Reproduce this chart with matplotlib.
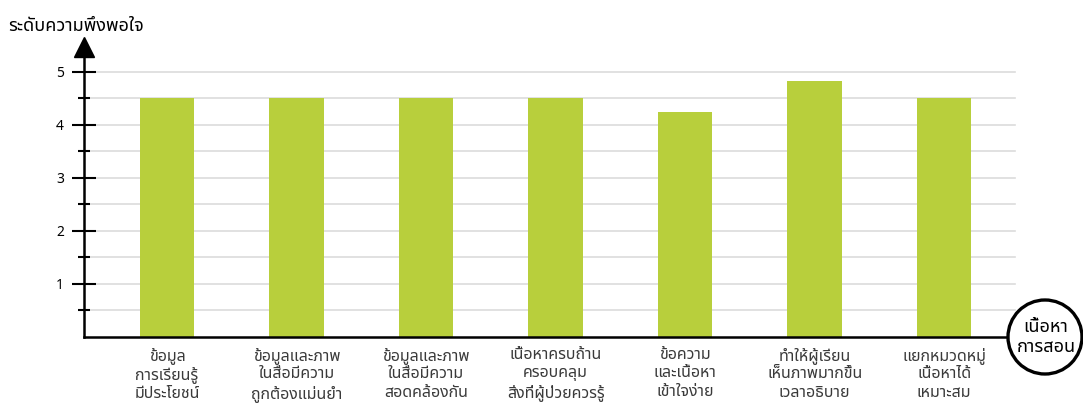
import matplotlib
matplotlib.use('Agg')
import matplotlib.pyplot as plt
import matplotlib.font_manager as fm
from matplotlib.ft2font import FT2Font
from matplotlib.patches import Ellipse
import numpy as np

# Thai glyphs: pick an installed family that actually covers the Thai block
PREFERRED = ['Noto Sans Thai', 'Noto Sans Thai UI', 'Sarabun', 'Loma', 'Garuda',
             'Kinnari', 'Norasi', 'Tlwg Typo', 'Waree', 'Umpush', 'Laksaman']
thai_font = None
names = {f.name: f.fname for f in fm.fontManager.ttflist}
for fn in PREFERRED:
    if fn in names:
        thai_font = fn
        break
if thai_font is None:
    for f in fm.fontManager.ttflist:
        try:
            if 0x0E01 in FT2Font(f.fname).get_charmap():
                thai_font = f.name
                break
        except Exception:
            continue
if thai_font is None:
    thai_font = 'DejaVu Sans'

plt.rcParams['font.family'] = [thai_font, 'DejaVu Sans']

# ---- data ----
topics = [
    'ข้อมูล\nการเรียนรู้\nมีประโยชน์',
    'ข้อมูลและภาพ\nในสื่อมีความ\nถูกต้องแม่นยำ',
    'ข้อมูลและภาพ\nในสื่อมีความ\nสอดคล้องกัน',
    'เนื้อหาครบถ้าน\nครอบคลุม\nสิ่งที่ผู้ป่วยควรรู้',
    'ข้อความ\nและเนื้อหา\nเข้าใจง่าย',
    'ทำให้ผู้เรียน\nเห็นภาพมากขึ้น\nเวลาอธิบาย',
    'แยกหมวดหมู่\nเนื้อหาได้\nเหมาะสม',
]
scores = [4.5, 4.5, 4.5, 4.5, 4.25, 4.82, 4.5]
major_ticks = [1, 2, 3, 4, 5]
minor_ticks = [0.5, 1.5, 2.5, 3.5, 4.5]
y_title = 'ระดับความพึงพอใจ'
x_title = 'เนื้อหา\nการสอน'

BAR = '#b8cf3c'
GRID = '#dcdcdc'

W, H = 1083, 412
fig = plt.figure(figsize=(W / 100, H / 100), dpi=100)
fig.patch.set_facecolor('white')

# axes box in pixels: left 84, right 1009, bottom(y=0) at 337, top at 56
ax = fig.add_axes([84 / W, (H - 337) / H, (1009 - 84) / W, (337 - 56) / H])
x = np.arange(len(topics))
ax.set_xlim(-0.641, 6.50)
ax.set_ylim(0, 5.3)

for g in np.arange(0.5, 5.01, 0.5):
    ax.plot([-0.641, 6.55], [g, g], color=GRID, lw=1.2, zorder=1, clip_on=False)

ax.bar(x, scores, width=0.42, color=BAR, zorder=2)

for s in ['top', 'right']:
    ax.spines[s].set_visible(False)
for s in ['left', 'bottom']:
    ax.spines[s].set_linewidth(1.8)
    ax.spines[s].set_color('black')
    ax.spines[s].set_zorder(4)

ax.set_yticks(major_ticks)
ax.set_yticks(minor_ticks, minor=True)
ax.tick_params(axis='y', which='major', direction='inout', length=17, width=1.5,
               labelsize=10, pad=6, colors='black')
ax.tick_params(axis='y', which='minor', direction='inout', length=8, width=1.5)
ax.set_xticks(x)
ax.set_xticklabels(topics, fontsize=11.5, color='#3a3a3a', linespacing=1.2)
ax.tick_params(axis='x', length=0, pad=7)

# arrow head on the y axis
ax.plot([-0.641], [5.47], marker='^', markersize=14, color='black',
        clip_on=False, zorder=5)

fig.text(8 / W, 1 - 31 / H, y_title, fontsize=13, fontweight='bold',
         ha='left', va='baseline', color='black')

# circled x-axis label
circ = Ellipse((1045 / W, 1 - 337 / H), 74 / W, 74 / H, transform=fig.transFigure,
               facecolor='white', edgecolor='black', lw=2.4, zorder=10)
fig.patches.append(circ)
fig.text(1046 / W, 1 - 337 / H, x_title, fontsize=13, fontweight='bold',
         ha='center', va='center', linespacing=1.15, zorder=11)

fig.savefig('out.png', dpi=100, facecolor='white')
